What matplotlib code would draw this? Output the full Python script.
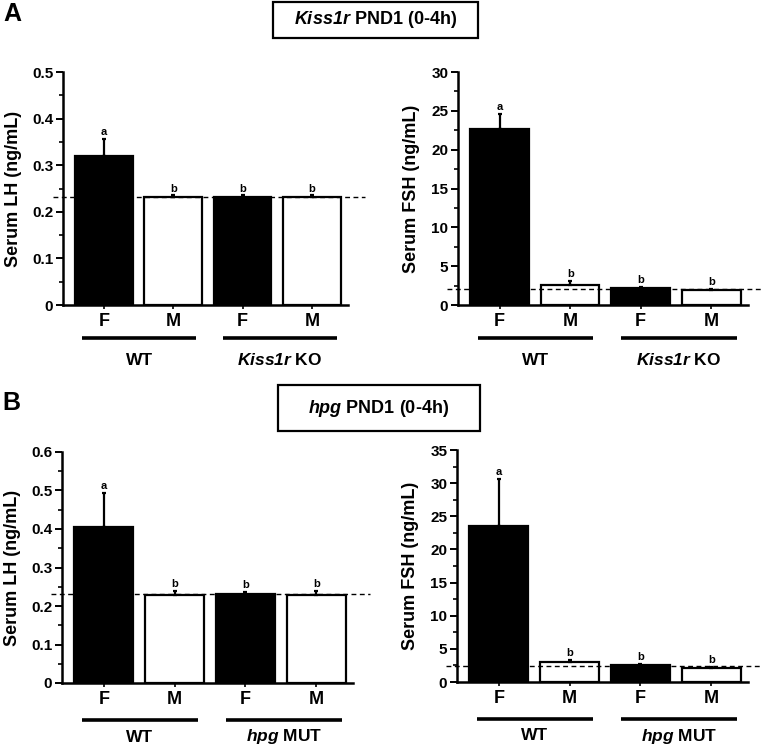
import numpy as np
import matplotlib
matplotlib.use("Agg")
import matplotlib.pyplot as plt
import matplotlib.transforms as mtransforms
from matplotlib.patches import Rectangle
from matplotlib.ticker import MultipleLocator, AutoMinorLocator, FuncFormatter

plt.rcParams["font.family"] = ["Liberation Sans", "DejaVu Sans"]
plt.rcParams["font.weight"] = "bold"
plt.rcParams["mathtext.fontset"] = "custom"
plt.rcParams["mathtext.rm"] = "Liberation Sans:bold"
plt.rcParams["mathtext.bfit"] = "Liberation Sans:bold:italic"
plt.rcParams["mathtext.it"] = "Liberation Sans:bold:italic"

# ---- data ----
sex = ["F", "M", "F", "M"]
fills = ["black", "white", "black", "white"]
letters = ["a", "b", "b", "b"]

lh_kiss = [0.320, 0.232, 0.232, 0.232]
lh_kiss_err = [0.037, 0.003, 0.003, 0.003]
lh_kiss_base = 0.232
fsh_kiss = [22.6, 2.6, 2.15, 1.93]
fsh_kiss_err = [2.0, 0.5, 0.2, 0.15]
fsh_kiss_base = 2.0

lh_hpg = [0.405, 0.229, 0.231, 0.229]
lh_hpg_err = [0.088, 0.010, 0.006, 0.009]
lh_hpg_base = 0.232
fsh_hpg = [23.6, 2.95, 2.55, 2.1]
fsh_hpg_err = [7.1, 0.3, 0.2, 0.2]
fsh_hpg_base = 2.35

W, H = 762, 750
fig = plt.figure(figsize=(W / 100, H / 100), dpi=100)


def px_axes(l, t, r, b):
    return fig.add_axes([l / W, 1 - b / H, (r - l) / W, (b - t) / H])


def panel(ax, vals, errs, base, ymax, ystep, ylabel, lab_x, groups, gap, offs):
    x = np.arange(len(vals))
    ax.bar(x, vals, width=0.83, color=fills, edgecolor="black", linewidth=1.6, zorder=2)
    ax.errorbar(x, vals, yerr=[np.zeros(len(errs)), errs], fmt="none", ecolor="black",
                elinewidth=1.6, capsize=1.2, capthick=1.6, zorder=3)
    ax.plot([-0.74, 3.76], [base, base], ls=(0, (3.5, 2.5)), color="black", lw=1.0,
            clip_on=False, zorder=4)
    for xi, v, e, s in zip(x, vals, errs, letters):
        ax.text(xi, v + e + gap, s, ha="center", va="bottom", fontsize=8, fontweight="bold")
    ax.set_xlim(-0.59, 3.52)
    ax.set_ylim(0, ymax)
    ax.yaxis.set_major_locator(MultipleLocator(ystep))
    ax.yaxis.set_minor_locator(AutoMinorLocator(2))
    ax.yaxis.set_major_formatter(FuncFormatter(lambda v, _: "0" if abs(v) < 1e-9 else f"{v:g}"))
    ax.set_xticks(x)
    ax.set_xticklabels(sex, fontsize=13, fontweight="bold")
    ax.tick_params(axis="x", length=3, width=1.2, pad=3)
    ax.tick_params(axis="y", which="major", length=5, width=1.4, labelsize=11, pad=2)
    ax.tick_params(axis="y", which="minor", length=3, width=1.2)
    for lbl in ax.get_yticklabels():
        lbl.set_fontweight("bold")
    for sp in ["top", "right"]:
        ax.spines[sp].set_visible(False)
    for sp in ["left", "bottom"]:
        ax.spines[sp].set_linewidth(1.8)
    ax.set_ylabel(ylabel, fontsize=13, fontweight="bold")
    ax.yaxis.set_label_coords(lab_x, 0.5)
    # group underline + label
    base_t = mtransforms.blended_transform_factory(ax.transData, ax.transAxes)
    line_t = mtransforms.offset_copy(base_t, fig=fig, y=-offs[0], units="dots")
    text_t = mtransforms.offset_copy(base_t, fig=fig, y=-offs[1], units="dots")
    for (x0, x1), g in zip([(-0.31, 1.33), (1.72, 3.36)], groups):
        ax.plot([x0, x1], [0, 0], color="black", lw=2.6, transform=line_t, clip_on=False,
                solid_capstyle="butt")
        ax.text((x0 + x1) / 2, 0, g, ha="center", va="center", fontsize=12.5,
                fontweight="bold", transform=text_t)


ax1 = px_axes(63, 72, 348, 305)
panel(ax1, lh_kiss, lh_kiss_err, lh_kiss_base, 0.5, 0.1, "Serum LH (ng/mL)", -0.145,
      ["WT", r"$\mathbfit{Kiss1r}$ KO"], 0.004, (33, 55))
ax2 = px_axes(458, 72, 748, 305)
panel(ax2, fsh_kiss, fsh_kiss_err, fsh_kiss_base, 30, 5, "Serum FSH (ng/mL)", -0.13,
      ["WT", r"$\mathbfit{Kiss1r}$ KO"], 0.25, (33, 55))
ax3 = px_axes(62, 452, 353, 683)
panel(ax3, lh_hpg, lh_hpg_err, lh_hpg_base, 0.6, 0.1, "Serum LH (ng/mL)", -0.14,
      ["WT", r"$\mathbfit{hpg}$ MUT"], 0.005, (37, 54))
ax4 = px_axes(457, 450, 748, 682)
panel(ax4, fsh_hpg, fsh_hpg_err, fsh_hpg_base, 35, 5, "Serum FSH (ng/mL)", -0.13,
      ["WT", r"$\mathbfit{hpg}$ MUT"], 0.3, (37, 54))

# panel letters and boxed titles
fig.text(3 / W, 1 - 14 / H, "A", fontsize=18, fontweight="bold", va="center", ha="left")
fig.text(2 / W, 1 - 403 / H, "B", fontsize=18, fontweight="bold", va="center", ha="left")
for (l, t, r, b), title in [((273, 2, 478, 38), r"$\mathbfit{Kiss1r}$ PND1 (0-4h)"),
                            ((278, 385, 480, 431), r"$\mathbfit{hpg}$ PND1 (0-4h)")]:
    fig.patches.append(Rectangle((l / W, 1 - b / H), (r - l) / W, (b - t) / H, fill=False,
                                 lw=1.6, ec="black", transform=fig.transFigure))
    fig.text((l + r) / 2 / W, 1 - (t + b) / 2 / H, title, fontsize=13, fontweight="bold",
             ha="center", va="center")

fig.savefig("out.png", dpi=100)
